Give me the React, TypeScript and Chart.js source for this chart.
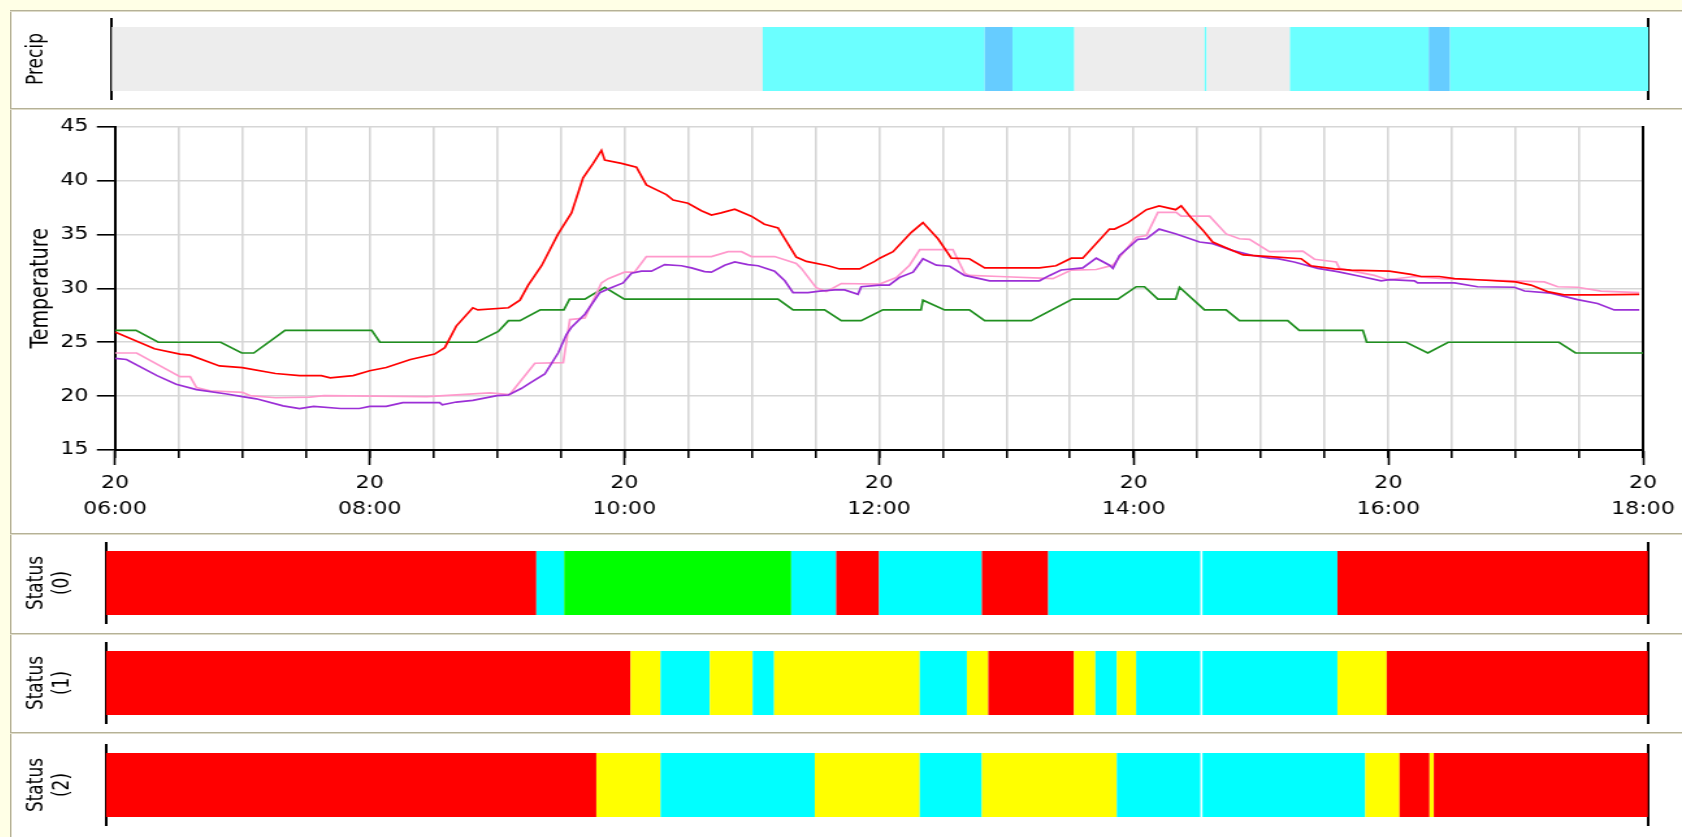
import React, { useEffect, useRef } from 'react';
import { Chart, registerables } from 'chart.js';

Chart.register(...registerables);

// ---------------- data ----------------
const dayLabel = '20';
const axisHours = [6, 8, 10, 12, 14, 16, 18];

const redTimes = [6.0, 6.31, 6.51, 6.59, 6.82, 7.0, 7.26, 7.45, 7.62, 7.69, 7.87, 8.0, 8.13, 8.32, 8.51, 8.59, 8.68, 8.81, 8.85, 9.09, 9.18, 9.245, 9.35, 9.48, 9.585, 9.676, 9.755, 9.82, 9.846, 9.977, 10.095, 10.173, 10.33, 10.383, 10.5, 10.605, 10.684, 10.76, 10.867, 10.997, 11.1, 11.207, 11.35, 11.43, 11.6, 11.69, 11.848, 11.966, 12.005, 12.11, 12.254, 12.345, 12.463, 12.568, 12.71, 12.83, 13.26, 13.39, 13.51, 13.6, 13.81, 13.85, 13.955, 14.1, 14.2, 14.33, 14.373, 14.44, 14.543, 14.62, 14.78, 14.86, 15.07, 15.315, 15.39, 15.576, 15.707, 16.008, 16.178, 16.257, 16.4, 16.52, 16.7, 17.0, 17.12, 17.25, 17.38, 17.64, 17.97];
const redTemps = [25.96, 24.4, 23.9, 23.8, 22.8, 22.65, 22.1, 21.9, 21.9, 21.7, 21.9, 22.35, 22.65, 23.4, 23.9, 24.5, 26.5, 28.2, 28.0, 28.2, 28.9, 30.3, 32.1, 35.05, 37.0, 40.25, 41.6, 42.8, 41.9, 41.6, 41.25, 39.6, 38.7, 38.2, 37.9, 37.2, 36.8, 37.0, 37.35, 36.7, 35.95, 35.6, 32.9, 32.5, 32.1, 31.8, 31.8, 32.5, 32.8, 33.4, 35.2, 36.1, 34.6, 32.8, 32.75, 31.9, 31.9, 32.1, 32.8, 32.8, 35.5, 35.5, 36.1, 37.3, 37.65, 37.3, 37.65, 36.7, 35.4, 34.3, 33.5, 33.1, 32.95, 32.75, 32.1, 31.8, 31.7, 31.6, 31.3, 31.1, 31.1, 30.9, 30.8, 30.6, 30.3, 29.7, 29.4, 29.4, 29.45];

const purpleTimes = [6.0, 6.09, 6.33, 6.48, 6.64, 6.877, 7.0, 7.11, 7.32, 7.45, 7.56, 7.77, 7.92, 8.0, 8.13, 8.26, 8.55, 8.57, 8.68, 8.81, 9.0, 9.09, 9.19, 9.27, 9.375, 9.48, 9.545, 9.585, 9.69, 9.807, 9.886, 9.99, 10.056, 10.134, 10.213, 10.317, 10.448, 10.527, 10.63, 10.684, 10.788, 10.867, 10.97, 11.05, 11.18, 11.26, 11.325, 11.443, 11.534, 11.652, 11.73, 11.835, 11.86, 12.005, 12.08, 12.16, 12.267, 12.345, 12.45, 12.555, 12.672, 12.79, 12.868, 13.26, 13.34, 13.43, 13.6, 13.706, 13.81, 13.837, 13.889, 14.033, 14.1, 14.2, 14.334, 14.517, 14.62, 14.78, 14.935, 15.066, 15.13, 15.26, 15.446, 15.6, 15.786, 15.943, 16.008, 16.205, 16.23, 16.52, 16.7, 16.99, 17.07, 17.277, 17.486, 17.643, 17.774, 17.97];
const purpleTemps = [23.5, 23.4, 21.9, 21.1, 20.6, 20.2, 19.95, 19.75, 19.1, 18.85, 19.05, 18.85, 18.85, 19.05, 19.05, 19.4, 19.4, 19.2, 19.45, 19.6, 20.05, 20.1, 20.7, 21.3, 22.05, 24.0, 25.7, 26.4, 27.6, 29.6, 30.0, 30.5, 31.4, 31.6, 31.6, 32.2, 32.1, 31.9, 31.55, 31.5, 32.15, 32.45, 32.2, 32.1, 31.6, 30.7, 29.6, 29.6, 29.75, 29.85, 29.85, 29.45, 30.15, 30.3, 30.3, 31.0, 31.5, 32.75, 32.15, 32.05, 31.2, 30.9, 30.7, 30.7, 31.2, 31.7, 31.9, 32.8, 32.15, 31.85, 33.05, 34.55, 34.6, 35.5, 35.05, 34.3, 34.15, 33.5, 33.05, 32.8, 32.75, 32.45, 31.85, 31.55, 31.1, 30.7, 30.8, 30.7, 30.5, 30.5, 30.15, 30.1, 29.75, 29.55, 28.95, 28.6, 28.0, 28.0];

const pinkTimes = [6.0, 6.17, 6.51, 6.59, 6.64, 6.746, 7.0, 7.06, 7.26, 7.53, 7.64, 8.45, 8.945, 9.1, 9.297, 9.52, 9.572, 9.69, 9.82, 9.873, 10.0, 10.08, 10.173, 10.684, 10.815, 10.92, 10.997, 11.18, 11.35, 11.39, 11.508, 11.586, 11.704, 12.005, 12.136, 12.24, 12.32, 12.58, 12.672, 12.71, 12.947, 13.365, 13.51, 13.706, 13.837, 14.02, 14.1, 14.19, 14.334, 14.373, 14.596, 14.726, 14.83, 14.91, 15.066, 15.328, 15.42, 15.59, 15.616, 15.89, 15.995, 16.204, 16.427, 16.7, 17.225, 17.33, 17.486, 17.67, 17.97];
const pinkTemps = [24.0, 24.0, 21.8, 21.8, 20.8, 20.5, 20.35, 20.05, 19.85, 19.9, 20.05, 19.95, 20.3, 20.15, 23.05, 23.1, 27.1, 27.25, 30.5, 30.9, 31.5, 31.5, 32.95, 32.95, 33.4, 33.4, 32.95, 32.95, 32.3, 31.85, 30.05, 29.7, 30.45, 30.4, 31.0, 32.15, 33.6, 33.6, 31.4, 31.2, 31.1, 30.9, 31.7, 31.75, 32.15, 34.75, 34.9, 37.05, 37.05, 36.7, 36.7, 35.05, 34.6, 34.55, 33.4, 33.45, 32.7, 32.45, 31.85, 31.2, 30.8, 31.1, 30.9, 30.8, 30.6, 30.15, 30.1, 29.75, 29.6];

const greenTimes = [6.0, 6.165, 6.34, 6.83, 6.995, 7.09, 7.335, 8.016, 8.08, 8.84, 9.01, 9.09, 9.18, 9.34, 9.525, 9.57, 9.69, 9.846, 10.0, 11.207, 11.325, 11.573, 11.704, 11.86, 12.03, 12.33, 12.345, 12.515, 12.71, 12.83, 13.195, 13.52, 13.876, 14.02, 14.085, 14.19, 14.33, 14.36, 14.556, 14.726, 14.83, 15.21, 15.3, 15.8, 15.83, 16.14, 16.31, 16.47, 17.34, 17.47, 18.0];
const greenTemps = [26.1, 26.1, 25.0, 25.0, 24.0, 24.0, 26.1, 26.1, 25.0, 25.0, 26.0, 27.0, 27.0, 28.0, 28.0, 29.0, 29.0, 30.1, 29.0, 29.0, 28.0, 28.0, 27.0, 27.0, 28.0, 28.0, 28.9, 28.0, 28.0, 27.0, 27.0, 29.0, 29.0, 30.15, 30.15, 29.0, 29.0, 30.1, 28.0, 28.0, 27.0, 27.0, 26.1, 26.1, 25.0, 25.0, 24.0, 25.0, 25.0, 24.0, 24.0];

// precipitation bands: boundaries (HH:MM) and level per band
const precipBounds = ['06:00', '11:05', '12:49', '13:02', '13:31', '14:32', '14:33', '15:12', '16:17', '16:27', '18:00'];
const precipLevels = [0, 1, 2, 1, 0, 1, 0, 1, 2, 1];
const precipColors = ['#EDEDED', '#6BFFFF', '#66CCFF'];

// status bands: boundaries and state per band ('-' = no data)
const status0Bounds = ['06:00', '09:21', '09:34', '11:20', '11:41', '12:01', '12:49', '13:20', '14:31', '14:32', '15:35', '18:00'];
const status0States = ['R', 'C', 'G', 'C', 'R', 'C', 'R', 'C', '-', 'C', 'R'];
const status1Bounds = ['06:00', '10:05', '10:19', '10:42', '11:02', '11:12', '12:20', '12:42', '12:52', '13:32', '13:42', '13:52', '14:01', '14:31', '14:32', '15:35', '15:58', '18:00'];
const status1States = ['R', 'Y', 'C', 'Y', 'C', 'Y', 'C', 'Y', 'R', 'Y', 'C', 'Y', 'C', '-', 'C', 'Y', 'R'];
const status2Bounds = ['06:00', '09:49', '10:19', '11:31', '12:20', '12:49', '13:52', '14:31', '14:32', '15:48', '16:04', '16:18', '16:20', '18:00'];
const status2States = ['R', 'Y', 'C', 'Y', 'C', 'Y', 'C', '-', 'C', 'Y', 'R', 'Y', 'R'];
const stateColors: Record<string, string> = { R: '#FF0000', C: '#00FFFF', G: '#00FF00', Y: '#FFFF00' };

// ---------------- layout helpers ----------------
const FONT = "'DejaVu Sans', sans-serif";
const PAGE_W = 1682;
const PAGE_H = 837;
const BOX_LEFT = 10;
const BOX_W = PAGE_W - BOX_LEFT;
const SX = 1.3;
const IW = Math.round(BOX_W / SX);
const K = BOX_W / IW;
const ix = (x: number) => (x - BOX_LEFT) / K;
const hm = (s: string) => {
  const [h, m] = s.split(':').map(Number);
  return h + m / 60;
};
const pad2 = (n: number) => (n < 10 ? '0' : '') + n;

Chart.defaults.font.family = FONT;

function bands(bounds: string[], keys: (string | number)[], colorOf: (k: any) => string | null, cat: string) {
  const data: any[] = [];
  const colors: string[] = [];
  keys.forEach((k, i) => {
    const c = colorOf(k);
    if (!c) return;
    data.push({ x: [hm(bounds[i]), hm(bounds[i + 1])], y: cat });
    colors.push(c);
  });
  return { data, colors };
}

function barConfig(cat: string, title: string | string[], bounds: string[], keys: (string | number)[], colorOf: (k: any) => string | null, leftX: number, rightX: number, padTop: number, padBottom: number) {
  const b = bands(bounds, keys, colorOf, cat);
  return {
    type: 'bar',
    data: {
      labels: [cat],
      datasets: [
        {
          data: b.data,
          backgroundColor: b.colors,
          borderWidth: 0,
          barPercentage: 0.8,
          categoryPercentage: 1,
          grouped: false,
          xAxisID: 'x',
          yAxisID: 'y',
        },
      ],
    },
    options: {
      indexAxis: 'y',
      responsive: false,
      animation: false,
      devicePixelRatio: 1,
      layout: { padding: { left: 0, right: IW - ix(rightX), top: padTop, bottom: padBottom } },
      plugins: { legend: { display: false }, tooltip: { enabled: false } },
      scales: {
        x: { type: 'linear', min: 6, max: 18, display: false },
        y: {
          type: 'category',
          position: 'left',
          afterFit: (s: any) => { s.width = ix(leftX); },
          ticks: { display: false },
          grid: { display: false },
          border: { display: true, color: '#000', width: 2 },
          title: {
            display: true,
            text: title,
            color: '#000',
            font: { family: FONT, size: 17, lineHeight: 20 / 17 },
            padding: { top: 10.5, bottom: 0 },
          },
        },
        y2: {
          type: 'category',
          position: 'right',
          afterFit: (s: any) => { s.width = 0; },
          ticks: { display: false },
          grid: { display: false },
          border: { display: true, color: '#000', width: 2 },
        },
      },
    },
  };
}

const line = (label: string, times: number[], temps: number[], color: string) => ({
  label,
  data: times.map((t, i) => ({ x: t, y: temps[i] })),
  borderColor: color,
  backgroundColor: color,
  borderWidth: 1.7,
  pointRadius: 0,
  tension: 0,
  xAxisID: 'x',
  yAxisID: 'y',
});

function tempConfig() {
  const tickFont = { family: FONT, size: 17, lineHeight: 26.7 / 17 };
  return {
    type: 'line',
    data: {
      datasets: [
        line('Red', redTimes, redTemps, '#FF0000'),
        line('Purple', purpleTimes, purpleTemps, '#9B2FD6'),
        line('Pink', pinkTimes, pinkTemps, '#FF99CC'),
        line('Green', greenTimes, greenTemps, '#1F8F1F'),
      ],
    },
    options: {
      responsive: false,
      animation: false,
      devicePixelRatio: 1,
      layout: { padding: { left: 0, right: IW - ix(1643), top: 13, bottom: 0 } },
      plugins: { legend: { display: false }, tooltip: { enabled: false } },
      scales: {
        x: {
          type: 'linear',
          position: 'bottom',
          min: 6,
          max: 18,
          weight: 0,
          afterFit: (s: any) => { s.height = 0; },
          ticks: { display: false, stepSize: 0.5 },
          grid: { color: '#D6D6D6', lineWidth: 1.6, tickLength: 8, tickColor: '#000', tickWidth: 1.6 },
          border: { display: false },
        },
        xMajor: {
          type: 'linear',
          position: 'bottom',
          min: 6,
          max: 18,
          weight: 1,
          afterFit: (s: any) => { s.height = 80; },
          afterBuildTicks: (s: any) => { s.ticks = axisHours.map((h) => ({ value: h })); },
          ticks: {
            padding: 5,
            color: '#000',
            font: tickFont,
            maxRotation: 0,
            autoSkip: false,
            callback: (v: number) => [dayLabel, pad2(v) + ':00'],
          },
          grid: { drawOnChartArea: false, tickLength: 15, tickColor: '#000', tickWidth: 1.6 },
          border: { display: true, color: '#000', width: 2 },
        },
        y: {
          type: 'linear',
          position: 'left',
          min: 15,
          max: 45,
          afterFit: (s: any) => { s.width = ix(115); },
          ticks: { stepSize: 5, padding: 6.5, color: '#000', font: { family: FONT, size: 17 } },
          grid: { color: '#D6D6D6', lineWidth: 1.6, tickLength: 14, tickColor: '#000', tickWidth: 1.6 },
          border: { display: true, color: '#000', width: 2 },
          title: {
            display: true,
            text: 'Temperature',
            color: '#000',
            font: { family: FONT, size: 19, lineHeight: 1.2 },
            padding: { top: 12.8, bottom: 0 },
          },
        },
        yRight: {
          type: 'linear',
          position: 'right',
          min: 15,
          max: 45,
          afterFit: (s: any) => { s.width = 0; },
          ticks: { display: false },
          grid: { display: false },
          border: { display: true, color: '#000', width: 2 },
        },
      },
    },
  };
}

function Panel({ top, height, make }: { top: number; height: number; make: () => any }) {
  const ref = useRef<HTMLCanvasElement>(null);
  useEffect(() => {
    const c = ref.current as HTMLCanvasElement;
    const chart = new Chart(c, make());
    return () => chart.destroy();
  }, []);
  return (
    <canvas
      ref={ref}
      width={IW}
      height={height}
      style={{ position: 'absolute', left: BOX_LEFT, top, width: BOX_W + 'px', height: height + 'px' }}
    />
  );
}

function Sep({ y }: { y: number }) {
  return (
    <div
      style={{
        position: 'absolute',
        left: BOX_LEFT,
        top: y,
        width: BOX_W,
        height: 1,
        background: '#B5B197',
        borderBottom: '1px solid #DEDBC8',
      }}
    />
  );
}

const precipColorOf = (k: number) => precipColors[k];
const stateColorOf = (k: string) => stateColors[k] || null;

export default function App() {
  return (
    <div style={{ position: 'fixed', left: 0, top: 0, width: PAGE_W, height: PAGE_H, background: '#FFFFE6', overflow: 'hidden' }}>
      <div style={{ position: 'absolute', left: BOX_LEFT, top: 10, width: BOX_W, height: PAGE_H - 10, background: '#FFFFFF' }} />
      <div style={{ position: 'absolute', left: BOX_LEFT, top: 10, width: 1, height: PAGE_H - 10, background: '#B5B197', borderRight: '1px solid #DEDBC8' }} />
      <Sep y={10} />
      <Panel top={12} height={94} make={() => barConfig('Precip', 'Precip', precipBounds, precipLevels, precipColorOf, 111.6, 1648.6, 7, 7)} />
      <Sep y={108} />
      <Panel top={110} height={420} make={tempConfig} />
      <Sep y={533} />
      <Panel top={535} height={97} make={() => barConfig('S0', ['Status', '(0)'], status0Bounds, status0States, stateColorOf, 105.8, 1648, 8, 9)} />
      <Sep y={633} />
      <Panel top={635} height={96} make={() => barConfig('S1', ['Status', '(1)'], status1Bounds, status1States, stateColorOf, 105.8, 1648, 8, 8)} />
      <Sep y={732} />
      <Panel top={735} height={102} make={() => barConfig('S2', ['Status', '(2)'], status2Bounds, status2States, stateColorOf, 105.8, 1648, 10, 12)} />
    </div>
  );
}
